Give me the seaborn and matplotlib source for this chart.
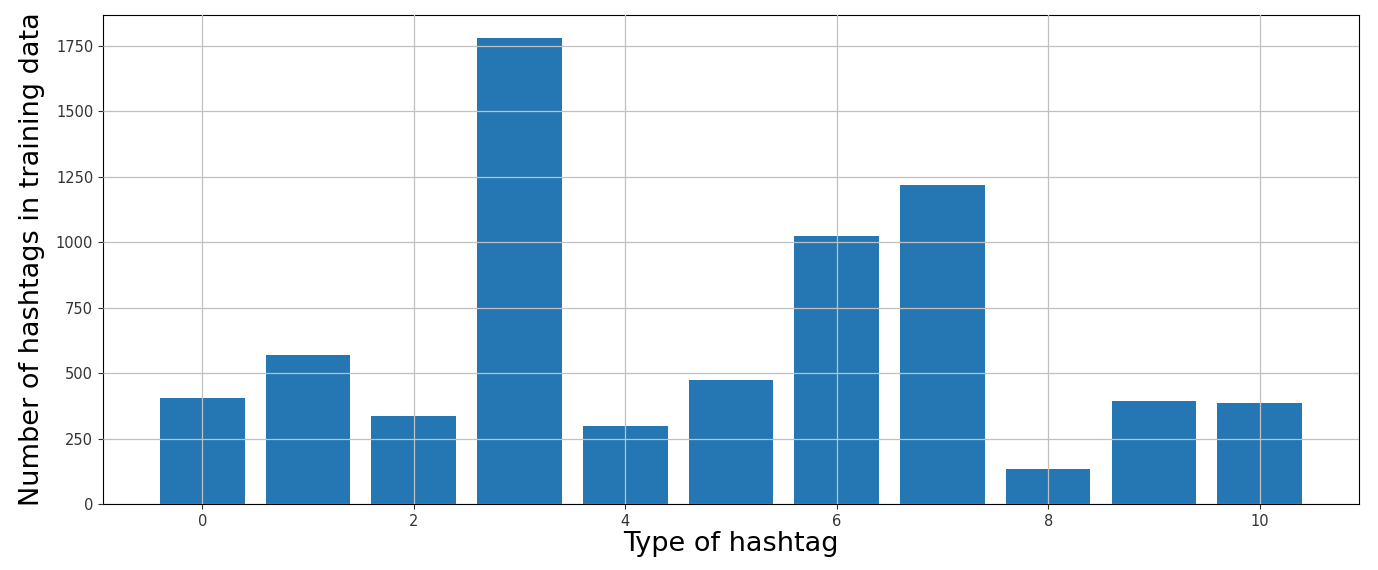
import numpy as np
import matplotlib
matplotlib.use("Agg")
import matplotlib.pyplot as plt
import pandas as pd
import seaborn as sns

# hashtag type counts
hashtag_type = [0, 1, 2, 3, 4, 5, 6, 7, 8, 9, 10]
hashtag_count = [405, 570, 337, 1779, 298, 473, 1024, 1217, 134, 395, 384]

df = pd.DataFrame({"type": hashtag_type, "count": hashtag_count})

fig = plt.figure(figsize=(13.78, 5.7), dpi=100)
ax = fig.add_axes([0.0747, 0.1158, 0.9115, 0.8579])

sns.barplot(x="type", y="count", data=df, native_scale=True, color="#2477b3",
            saturation=1, width=0.8, ax=ax, errorbar=None)

ax.set_xlim(-0.94, 10.94)
ax.set_ylim(0, 1868)
ax.set_xticks([0, 2, 4, 6, 8, 10])
ax.set_yticks([0, 250, 500, 750, 1000, 1250, 1500, 1750])
ax.grid(True, color="#c0c0c0", linewidth=0.9)
ax.set_axisbelow(False)
ax.tick_params(labelsize=10.5, colors="#333333")
ax.set_xlabel("Type of hashtag", fontsize=19.5, labelpad=2)
ax.set_ylabel("Number of hashtags in training data", fontsize=19.5, labelpad=8)

fig.savefig("out.png", dpi=100)
